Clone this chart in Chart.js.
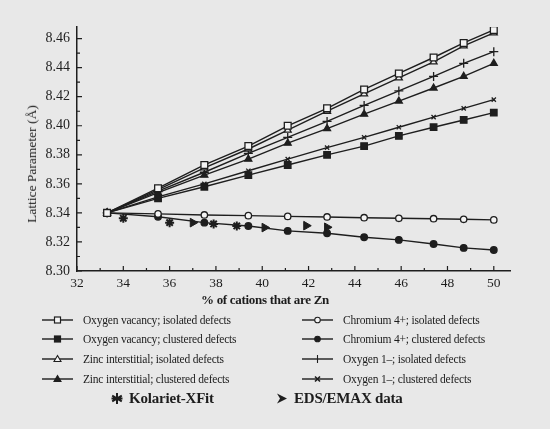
<!DOCTYPE html>
<html>
<head>
<meta charset="utf-8">
<script src="https://cdn.jsdelivr.net/npm/chart.js@4/dist/chart.umd.min.js"></script>
<style>
  body { margin: 0; background: #e8e8e8; }
  #wrap { position: relative; width: 550px; height: 429px; overflow: hidden; font-family: "Liberation Serif", "DejaVu Serif", serif; color: #1c1c1c; }
  #plot { position: absolute; left: 0; top: 0; width: 550px; height: 310px; }
  .ytitle { position: absolute; left: 32px; top: 164px; transform: translate(-50%, -50%) rotate(-90deg); white-space: nowrap; font-size: 13.5px; }
  .xtitle { position: absolute; left: 265px; top: 300px; transform: translate(-50%, -50%); white-space: nowrap; font-size: 13px; font-weight: bold; letter-spacing: -0.3px; }
  .leg { position: absolute; display: flex; align-items: center; white-space: nowrap; font-size: 11.5px; letter-spacing: -0.2px; transform: translateY(-50%); }
  .leg svg { margin-right: 10px; }
  .big { font-size: 15px; font-weight: bold; }
  .big svg { margin-right: 6px; }
</style>
</head>
<body>
<div id="wrap">
  <div id="plot"><canvas id="chart"></canvas></div>
  <div class="ytitle">Lattice Parameter (Å)</div>
  <div class="xtitle">% of cations that are Zn</div>
  <div id="legend"></div>
</div>
<script>
// % of cations that are Zn
const zn = [33.3, 35.5, 37.5, 39.4, 41.1, 42.8, 44.4, 45.9, 47.4, 48.7, 50.0];

const ovIso = [8.340, 8.357, 8.373, 8.386, 8.400, 8.412, 8.425, 8.436, 8.447, 8.457, 8.466];
const ovClu = [8.340, 8.350, 8.358, 8.366, 8.373, 8.380, 8.386, 8.393, 8.399, 8.404, 8.409];
const ziIso = [8.340, 8.356, 8.371, 8.384, 8.397, 8.410, 8.422, 8.433, 8.444, 8.455, 8.464];
const ziClu = [8.340, 8.354, 8.366, 8.377, 8.388, 8.398, 8.408, 8.417, 8.426, 8.434, 8.443];
const crIso = [8.340, 8.3393, 8.3386, 8.3381, 8.3376, 8.3372, 8.3367, 8.3363, 8.336, 8.3356, 8.3352];
const crClu = [8.340, 8.3374, 8.3333, 8.331, 8.3276, 8.326, 8.3232, 8.3214, 8.3186, 8.3159, 8.3145];
const oxIso = [8.340, 8.355, 8.368, 8.381, 8.392, 8.403, 8.414, 8.424, 8.434, 8.443, 8.451];
const oxClu = [8.340, 8.351, 8.360, 8.369, 8.377, 8.385, 8.392, 8.399, 8.406, 8.412, 8.418];

// measured points
const kolX = [34.0, 36.0, 37.9, 38.9];
const kolY = [8.3363, 8.3333, 8.3324, 8.331];
const edsX = [37.0, 40.1, 41.9, 42.8];
const edsY = [8.3333, 8.3299, 8.3312, 8.3301];

const xTicks = [32, 34, 36, 38, 40, 42, 44, 46, 48, 50];
const yTicks = [8.30, 8.32, 8.34, 8.36, 8.38, 8.40, 8.42, 8.44, 8.46];

const ink = '#1e1e1e';
const pts = (xs, ys) => xs.map((x, i) => ({x: x, y: ys[i]}));

function series(label, ys, style, fill, r) {
  return {
    label: label, data: pts(zn, ys), showLine: true,
    borderColor: ink, borderWidth: 1.4,
    pointStyle: style, pointRadius: r, pointBackgroundColor: fill,
    pointBorderColor: ink, pointBorderWidth: 1.3
  };
}

const datasets = [
  series('Oxygen vacancy; isolated defects', ovIso, 'rect', '#f4f4f4', 4.8),
  series('Oxygen vacancy; clustered defects', ovClu, 'rect', ink, 4.6),
  series('Zinc interstitial; isolated defects', ziIso, 'triangle', '#f4f4f4', 4),
  series('Zinc interstitial; clustered defects', ziClu, 'triangle', ink, 4),
  series('Chromium 4+; isolated defects', crIso, 'circle', '#f4f4f4', 3.2),
  series('Chromium 4+; clustered defects', crClu, 'circle', ink, 3.3),
  series('Oxygen 1\u2013; isolated defects', oxIso, 'cross', ink, 4.5),
  series('Oxygen 1\u2013; clustered defects', oxClu, 'crossRot', ink, 3),
  {
    label: 'Kolariet-XFit', data: pts(kolX, kolY), showLine: false,
    pointStyle: 'star', pointRadius: 4.5, borderColor: ink, pointBorderWidth: 2
  },
  {
    label: 'EDS/EMAX data', data: pts(edsX, edsY), showLine: false,
    pointStyle: 'triangle', rotation: 90, pointRadius: 5,
    backgroundColor: ink, borderColor: ink, pointBorderWidth: 1
  }
];

// inward tick marks, major and minor
const innerTicks = {
  id: 'innerTicks',
  afterDraw(chart) {
    const ctx = chart.ctx, xs = chart.scales.x, ys = chart.scales.y;
    const a = chart.chartArea;
    ctx.save();
    ctx.strokeStyle = ink;
    ctx.lineWidth = 1.2;
    ctx.beginPath();
    for (let v = 32; v <= 50; v += 1) {
      const px = xs.getPixelForValue(v);
      const len = v % 2 === 0 ? 5 : 3;
      ctx.moveTo(px, a.bottom);
      ctx.lineTo(px, a.bottom - len);
    }
    for (let k = 0; k <= 16; k++) {
      const py = ys.getPixelForValue(8.30 + k * 0.01);
      const len = k % 2 === 0 ? 5 : 3;
      ctx.moveTo(a.left, py);
      ctx.lineTo(a.left + len, py);
    }
    ctx.stroke();
    ctx.restore();
  }
};

new Chart(document.getElementById('chart'), {
  type: 'scatter',
  data: {datasets: datasets},
  plugins: [innerTicks],
  options: {
    responsive: true,
    maintainAspectRatio: false,
    animation: false,
    layout: {padding: {top: 27, right: 40, left: 0, bottom: 0}},
    plugins: {legend: {display: false}, tooltip: {enabled: false}},
    scales: {
      x: {
        type: 'linear', min: 32, max: 50.7,
        afterBuildTicks: s => { s.ticks = xTicks.map(v => ({value: v})); },
        afterFit: s => { s.height = 39; },
        grid: {display: false, drawTicks: false},
        border: {display: true, color: ink, width: 1.5},
        ticks: {color: ink, padding: 4, font: {family: 'Liberation Serif', size: 13.5}}
      },
      y: {
        type: 'linear', min: 8.30, max: 8.468,
        afterBuildTicks: s => { s.ticks = yTicks.map(v => ({value: v})); },
        afterFit: s => { s.width = 77; },
        grid: {display: false, drawTicks: false},
        border: {display: true, color: ink, width: 1.5},
        ticks: {color: ink, padding: 7, font: {family: 'Liberation Serif', size: 14},
                callback: v => v.toFixed(2)}
      }
    }
  }
});

// legend
function sample(style, fill, w) {
  const m = w / 2, c = 6;
  let mark = '';
  if (style === 'rect') mark = `<rect x="${m - 3}" y="${c - 3}" width="6" height="6" fill="${fill}" stroke="${ink}" stroke-width="1.2"/>`;
  if (style === 'triangle') mark = `<polygon points="${m},${c - 3.5} ${m + 3.5},${c + 2.5} ${m - 3.5},${c + 2.5}" fill="${fill}" stroke="${ink}" stroke-width="1.1"/>`;
  if (style === 'circle') mark = `<circle cx="${m}" cy="${c}" r="2.8" fill="${fill}" stroke="${ink}" stroke-width="1.1"/>`;
  if (style === 'cross') mark = `<line x1="${m}" y1="${c - 4}" x2="${m}" y2="${c + 4}" stroke="${ink}" stroke-width="1.1"/>`;
  if (style === 'crossRot') mark = `<path d="M${m - 2.5} ${c - 2.5}L${m + 2.5} ${c + 2.5}M${m + 2.5} ${c - 2.5}L${m - 2.5} ${c + 2.5}" stroke="${ink}" stroke-width="1.6"/>`;
  return `<svg width="${w}" height="12"><line x1="0" y1="${c}" x2="${w}" y2="${c}" stroke="${ink}" stroke-width="1.4"/>${mark}</svg>`;
}

const legendEl = document.getElementById('legend');
const colLeft = [42, 302], rowTop = [320, 339, 359, 379];
const order = [[0, 1, 2, 3], [4, 5, 6, 7]];
order.forEach((col, ci) => col.forEach((di, ri) => {
  const ds = datasets[di];
  const d = document.createElement('div');
  d.className = 'leg';
  d.style.left = colLeft[ci] + 'px';
  d.style.top = rowTop[ri] + 'px';
  d.innerHTML = sample(ds.pointStyle, ds.pointBackgroundColor, 31) + '<span>' + ds.label + '</span>';
  legendEl.appendChild(d);
}));

const star = `<svg width="12" height="12"><path d="M6 0.5V11.5M1.2 3.2L10.8 8.8M10.8 3.2L1.2 8.8M0.5 6H11.5" stroke="${ink}" stroke-width="2"/></svg>`;
const arrow = `<svg width="12" height="12"><polygon points="1,1 11,6 1,11 4,6" fill="${ink}"/></svg>`;
[[111, star, datasets[8].label], [276, arrow, datasets[9].label]].forEach(([x, icon, label]) => {
  const d = document.createElement('div');
  d.className = 'leg big';
  d.style.left = x + 'px';
  d.style.top = '398px';
  d.innerHTML = icon + '<span>' + label + '</span>';
  legendEl.appendChild(d);
});
</script>
</body>
</html>
